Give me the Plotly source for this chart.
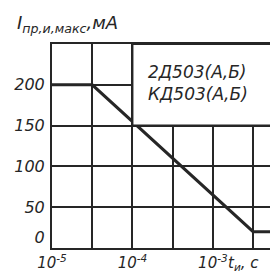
import plotly.graph_objects as go

# data
pulse_time_s = [1e-5, 10**-4.5, 10**-2.5, 10**-2.2]
max_current_mA = [200, 200, 20, 20]
x_grid_vals = [1e-5, 10**-4.5, 1e-4, 10**-3.5, 1e-3, 10**-2.5]
x_grid_text = ["10<sup>-5</sup>", "", "10<sup>-4</sup>", "", "10<sup>-3</sup>", ""]
y_ticks = [0, 50, 100, 150, 200]
y_tick_text = ["0<br> ", "50", "100", "150", "200"]
legend_lines = ["2Д503(А,Б)", "КД503(А,Б)"]

ink = "#262626"
font = dict(family="DejaVu Sans", size=15, color=ink, style="italic")

fig = go.Figure()
fig.add_trace(go.Scatter(x=pulse_time_s, y=max_current_mA, mode="lines",
                         line=dict(color=ink, width=3), hoverinfo="skip"))

fig.update_layout(
    width=270, height=280,
    margin=dict(l=52, r=0, t=44, b=32),
    paper_bgcolor="white", plot_bgcolor="white",
    showlegend=False,
    font=font,
    xaxis=dict(type="log", range=[-5, -2.29], tickvals=x_grid_vals, ticktext=x_grid_text,
               showgrid=True, gridcolor=ink, gridwidth=2, showline=True, linecolor=ink,
               linewidth=2, mirror=True, ticks="", zeroline=False, tickfont=font),
    yaxis=dict(range=[0, 250], tickvals=y_ticks, ticktext=y_tick_text, showgrid=True,
               gridcolor=ink, gridwidth=2, showline=True, linecolor=ink, linewidth=2,
               ticks="", zeroline=False, tickfont=dict(font, size=16), ticklabelstandoff=2),
)

fig.add_shape(type="rect", xref="x", yref="y", x0=1e-4, x1=1e-1, y0=150, y1=250,
              fillcolor="white", line=dict(color=ink, width=2), layer="above")

fig.add_annotation(text="<br>".join(legend_lines), xref="paper", yref="paper",
                   x=0.43, y=0.92, xanchor="left", yanchor="top", showarrow=False,
                   font=dict(font, size=17), align="left")

fig.add_annotation(text="I<sub>пр,и,макс</sub>,мА", xref="paper", yref="paper",
                   x=-0.17, y=1.03, xanchor="left", yanchor="bottom", showarrow=False,
                   font=dict(font, size=18))

fig.add_annotation(text="t<sub>и</sub>, с", xref="paper", yref="paper",
                   x=0.8, y=-0.02, xanchor="left", yanchor="top", showarrow=False,
                   font=dict(font, size=15))

fig.write_html("out.html", config={"displayModeBar": False})

with open("out.html", encoding="utf-8") as f:
    html = f.read()
html = html.replace("<head>", "<head><style>html,body{margin:0;padding:0;overflow:hidden;}</style>", 1)
with open("out.html", "w", encoding="utf-8") as f:
    f.write(html)
